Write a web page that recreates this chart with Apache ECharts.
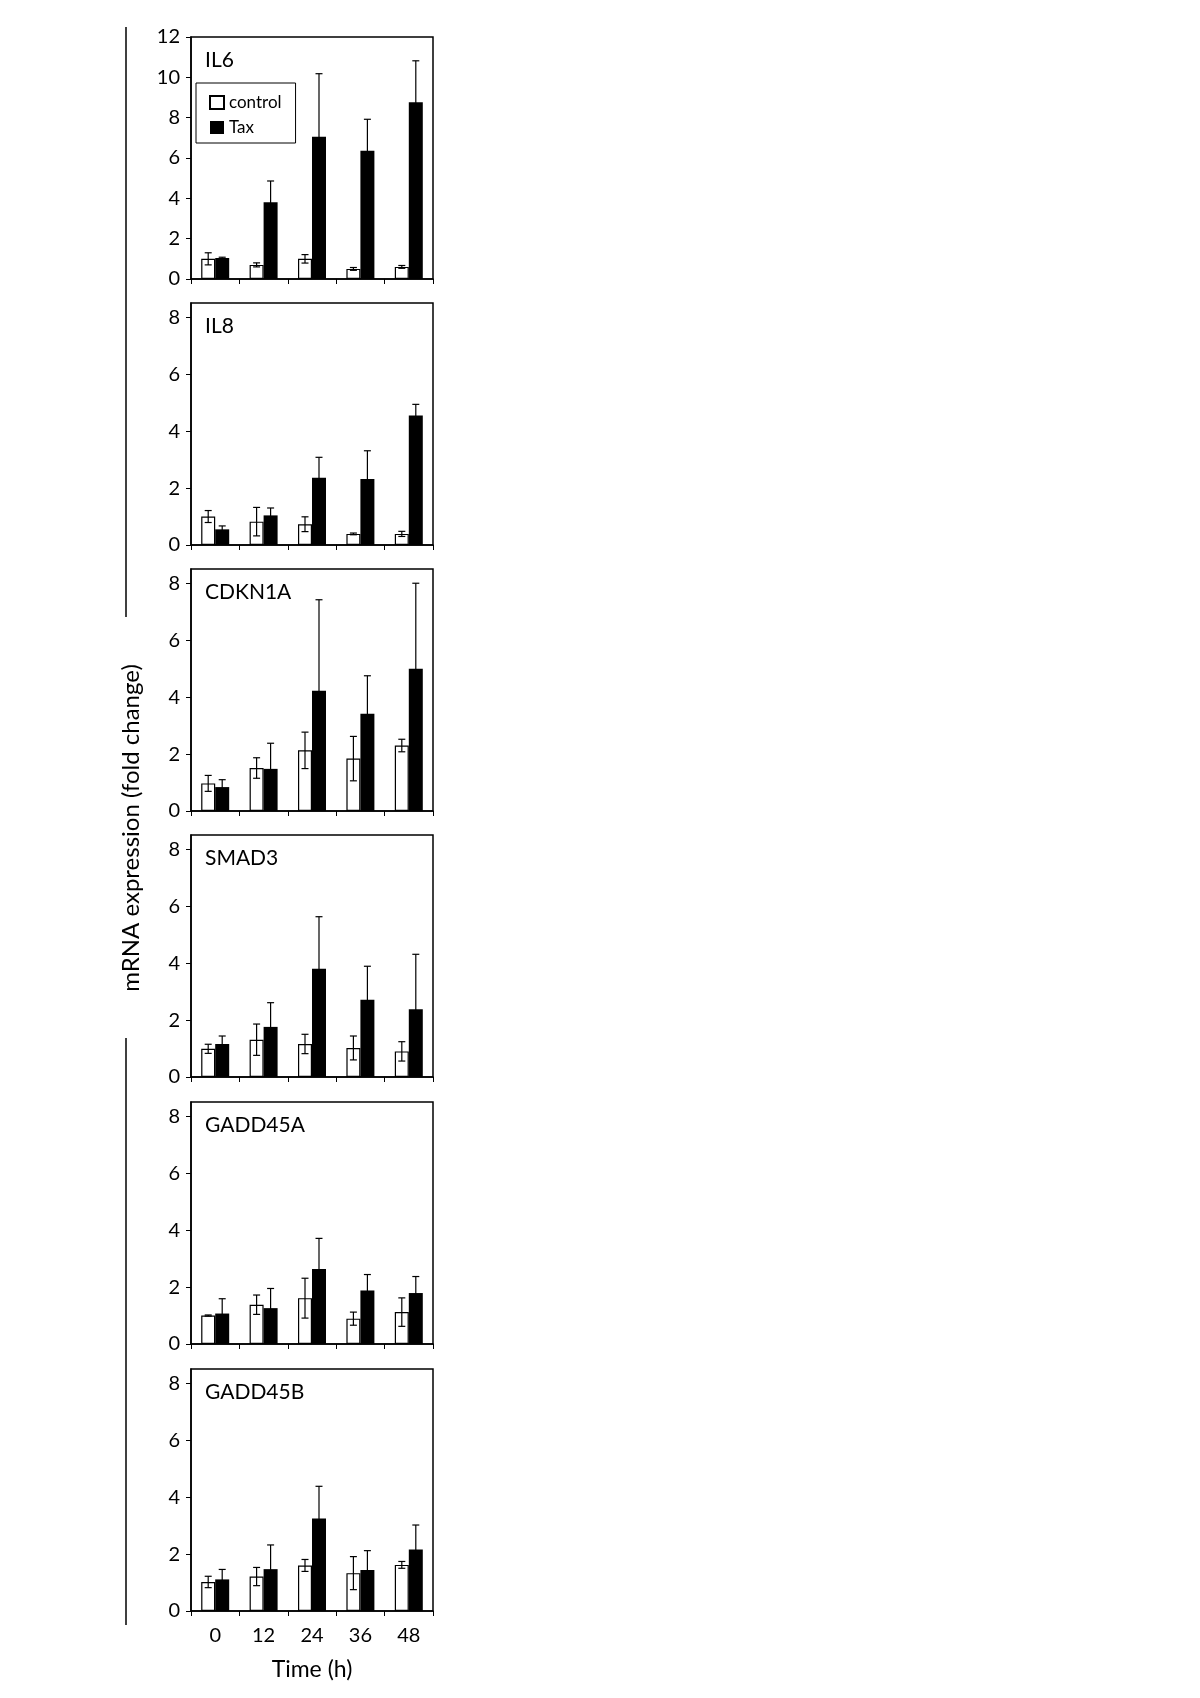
<!DOCTYPE html>
<html>
<head>
<meta charset="utf-8">
<title>mRNA expression</title>
<script src="https://cdn.jsdelivr.net/npm/echarts@6/dist/echarts.min.js"></script>
<style>
  html, body { margin: 0; padding: 0; background: #fff; }
  #chart { width: 1200px; height: 1698px; }
</style>
</head>
<body>
<div id="chart"></div>
<script>
// time points (h)
const categories = ['0', '12', '24', '36', '48']
const yTicks = [0, 2, 4, 6, 8]

// fold change, mean and error
const il6Control = [1.0, 0.7, 1.0, 0.5, 0.6]
const il6ControlErr = [0.3, 0.1, 0.21, 0.07, 0.07]
const il6Tax = [1.04, 3.8, 7.05, 6.36, 8.77]
const il6TaxErr = [0.04, 1.06, 3.13, 1.56, 2.05]

const il8Control = [1.0, 0.82, 0.73, 0.39, 0.39]
const il8ControlErr = [0.21, 0.5, 0.26, 0.03, 0.09]
const il8Tax = [0.55, 1.04, 2.36, 2.32, 4.55]
const il8TaxErr = [0.12, 0.26, 0.72, 0.99, 0.39]

const cdkn1aControl = [0.97, 1.51, 2.13, 1.84, 2.3]
const cdkn1aControlErr = [0.28, 0.36, 0.64, 0.78, 0.22]
const cdkn1aTax = [0.84, 1.48, 4.22, 3.42, 5.0]
const cdkn1aTaxErr = [0.26, 0.9, 3.2, 1.33, 3.0]

const smad3Control = [0.99, 1.31, 1.16, 1.02, 0.9]
const smad3ControlErr = [0.16, 0.55, 0.34, 0.42, 0.34]
const smad3Tax = [1.16, 1.76, 3.8, 2.71, 2.38]
const smad3TaxErr = [0.28, 0.85, 1.83, 1.18, 1.93]

const gadd45aControl = [1.0, 1.38, 1.61, 0.89, 1.12]
const gadd45aControlErr = [0.02, 0.34, 0.7, 0.23, 0.5]
const gadd45aTax = [1.07, 1.26, 2.63, 1.88, 1.79]
const gadd45aTaxErr = [0.52, 0.69, 1.08, 0.56, 0.58]

const gadd45bControl = [1.02, 1.21, 1.6, 1.33, 1.62]
const gadd45bControlErr = [0.2, 0.32, 0.21, 0.58, 0.12]
const gadd45bTax = [1.11, 1.47, 3.25, 1.44, 2.16]
const gadd45bTaxErr = [0.35, 0.85, 1.13, 0.68, 0.86]

const panels = [
  { gene: 'IL6', max: 12, ctrl: il6Control, ctrlErr: il6ControlErr, tax: il6Tax, taxErr: il6TaxErr },
  { gene: 'IL8', max: 8.5, ctrl: il8Control, ctrlErr: il8ControlErr, tax: il8Tax, taxErr: il8TaxErr },
  { gene: 'CDKN1A', max: 8.5, ctrl: cdkn1aControl, ctrlErr: cdkn1aControlErr, tax: cdkn1aTax, taxErr: cdkn1aTaxErr },
  { gene: 'SMAD3', max: 8.5, ctrl: smad3Control, ctrlErr: smad3ControlErr, tax: smad3Tax, taxErr: smad3TaxErr },
  { gene: 'GADD45A', max: 8.5, ctrl: gadd45aControl, ctrlErr: gadd45aControlErr, tax: gadd45aTax, taxErr: gadd45aTaxErr },
  { gene: 'GADD45B', max: 8.5, ctrl: gadd45bControl, ctrlErr: gadd45bControlErr, tax: gadd45bTax, taxErr: gadd45bTaxErr }
]

const FONT = 'Lato'
const gridTops = [37, 303, 569, 835, 1102, 1369]
const gridLeft = 191
const gridWidth = 242
const gridHeight = 242
const barWidth = 14

function errorBars(offset) {
  return function (params, api) {
    const idx = api.value(0)
    const mean = api.value(1)
    const err = api.value(2)
    const hi = api.coord([idx, mean + err])
    const lo = api.coord([idx, Math.max(mean - err, 0)])
    const x = hi[0] + offset
    const cap = 3.5
    const style = { stroke: '#000', lineWidth: 1.2 }
    return {
      type: 'group',
      children: [
        { type: 'line', shape: { x1: x, y1: hi[1], x2: x, y2: lo[1] }, style },
        { type: 'line', shape: { x1: x - cap, y1: hi[1], x2: x + cap, y2: hi[1] }, style },
        { type: 'line', shape: { x1: x - cap, y1: lo[1], x2: x + cap, y2: lo[1] }, style }
      ]
    }
  }
}

const grid = []
const xAxis = []
const yAxis = []
const series = []
const graphic = []

panels.forEach((p, i) => {
  const last = i === panels.length - 1
  grid.push({
    left: gridLeft,
    top: gridTops[i],
    width: gridWidth,
    height: gridHeight,
    show: true,
    borderColor: '#000',
    borderWidth: 1.5
  })
  xAxis.push({
    type: 'category',
    gridIndex: i,
    data: categories,
    axisLine: { lineStyle: { color: '#000', width: 1.5 } },
    axisTick: { show: true, length: 5, lineStyle: { color: '#000', width: 1 } },
    axisLabel: {
      show: last,
      color: '#000',
      fontFamily: FONT,
      fontSize: 20,
      margin: 15
    },
    name: last ? 'Time (h)' : '',
    nameLocation: 'middle',
    nameGap: 47,
    nameTextStyle: { color: '#000', fontFamily: FONT, fontSize: 23 }
  })
  const y = {
    type: 'value',
    gridIndex: i,
    min: 0,
    max: p.max,
    interval: 2,
    axisLine: { show: true, lineStyle: { color: '#000', width: 1.5 } },
    axisTick: { show: true, length: 5, lineStyle: { color: '#000', width: 1 } },
    axisLabel: { color: '#000', fontFamily: FONT, fontSize: 20, margin: 11 },
    splitLine: { show: false }
  }
  if (p.max !== 12) {
    y.axisTick.customValues = yTicks
    y.axisLabel.customValues = yTicks
  }
  yAxis.push(y)

  series.push({
    name: 'control',
    type: 'bar',
    xAxisIndex: i,
    yAxisIndex: i,
    barWidth: barWidth,
    barGap: '0%',
    data: p.ctrl,
    itemStyle: { color: '#fff', borderColor: '#000', borderWidth: 1.2 },
    animation: false
  })
  series.push({
    name: 'Tax',
    type: 'bar',
    xAxisIndex: i,
    yAxisIndex: i,
    barWidth: barWidth,
    barGap: '0%',
    data: p.tax,
    itemStyle: { color: '#000' },
    animation: false
  })
  series.push({
    name: 'control error',
    type: 'custom',
    xAxisIndex: i,
    yAxisIndex: i,
    z: 5,
    renderItem: errorBars(-barWidth / 2),
    data: p.ctrl.map((v, k) => [k, v, p.ctrlErr[k]]),
    animation: false
  })
  series.push({
    name: 'Tax error',
    type: 'custom',
    xAxisIndex: i,
    yAxisIndex: i,
    z: 5,
    renderItem: errorBars(barWidth / 2),
    data: p.tax.map((v, k) => [k, v, p.taxErr[k]]),
    animation: false
  })

  graphic.push({
    type: 'text',
    left: 205,
    top: gridTops[i] + 13,
    style: { text: p.gene, fill: '#000', font: '21px ' + FONT }
  })
})

// side brackets and shared y title
graphic.push({
  type: 'line',
  shape: { x1: 126, y1: 27, x2: 126, y2: 617 },
  style: { stroke: '#000', lineWidth: 1.5 }
})
graphic.push({
  type: 'line',
  shape: { x1: 126, y1: 1038, x2: 126, y2: 1625 },
  style: { stroke: '#000', lineWidth: 1.5 }
})
graphic.push({
  type: 'text',
  x: 131,
  y: 828,
  rotation: Math.PI / 2,
  style: {
    text: 'mRNA expression (fold change)',
    fill: '#000',
    font: '24px ' + FONT,
    align: 'center',
    verticalAlign: 'middle'
  }
})

const chart = echarts.init(document.getElementById('chart'))
chart.setOption({
  backgroundColor: '#fff',
  animation: false,
  legend: {
    data: ['control', 'Tax'],
    orient: 'vertical',
    left: 196,
    top: 83,
    icon: 'rect',
    itemWidth: 14,
    itemHeight: 13,
    itemGap: 8,
    padding: [11, 14, 7, 13],
    borderColor: '#000',
    borderWidth: 1,
    selectedMode: false,
    textStyle: { color: '#000', fontFamily: FONT, fontSize: 17, lineHeight: 17 }
  },
  grid,
  xAxis,
  yAxis,
  series,
  graphic
})
</script>
</body>
</html>
